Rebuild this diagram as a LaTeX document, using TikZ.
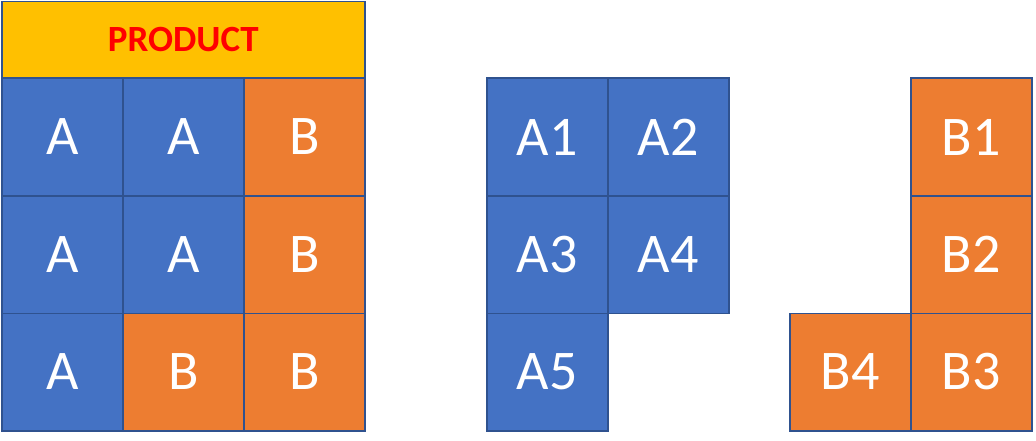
\documentclass[tikz,border=0pt]{standalone}
\usepackage{fontspec}
\setmainfont{Carlito}
\definecolor{cblue}{HTML}{4472C4}
\definecolor{corange}{HTML}{ED7D31}
\definecolor{cgold}{HTML}{FFC000}
\definecolor{cedge}{HTML}{2F528F}
\tikzset{
  cell/.style={draw=cedge, line width=1.5pt, minimum width=121pt, minimum height=117.5pt, inner sep=0pt, anchor=north west, text=white, font=\fontsize{56}{60}\selectfont},
  acell/.style={cell, fill=cblue},
  bcell/.style={cell, fill=corange},
  hdr/.style={draw=cedge, line width=1.5pt, fill=cgold, minimum width=363pt, minimum height=76.5pt, inner sep=0pt, anchor=north west, text=red, font=\fontsize{37}{40}\selectfont\bfseries}
}
\begin{document}
\begin{tikzpicture}[x=1pt,y=-1pt]
\useasboundingbox[fill=white] (0,0) rectangle (1036,441);
\node[hdr] (prod) at (1,1) {PRODUCT};
% left grid
\node[acell] (l11) at (1,77.5) {A};
\node[acell] (l12) at (122,77.5) {A};
\node[bcell] (l13) at (243,77.5) {B};
\node[acell] (l21) at (1,195) {A};
\node[acell] (l22) at (122,195) {A};
\node[bcell] (l23) at (243,195) {B};
\node[acell] (l31) at (1,312.5) {A};
\node[bcell] (l32) at (122,312.5) {B};
\node[bcell] (l33) at (243,312.5) {B};
% middle
\node[acell] (a1) at (486,77.5) {A1};
\node[acell] (a2) at (607,77.5) {A2};
\node[acell] (a3) at (486,195) {A3};
\node[acell] (a4) at (607,195) {A4};
\node[acell] (a5) at (486,312.5) {A5};
% right
\node[bcell] (b1) at (910,77.5) {B1};
\node[bcell] (b2) at (910,195) {B2};
\node[bcell] (b3) at (910,312.5) {B3};
\node[bcell] (b4) at (789,312.5) {B4};
\end{tikzpicture}
\end{document}
